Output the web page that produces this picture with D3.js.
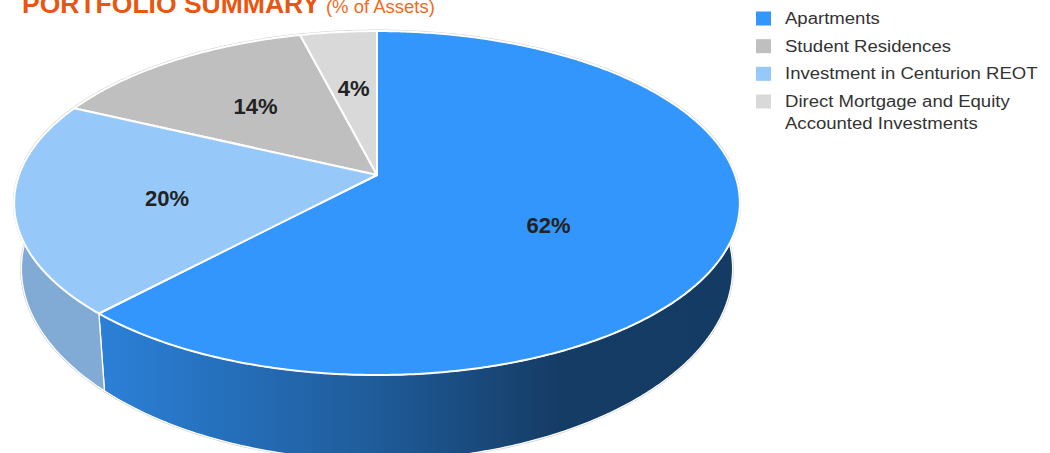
<!DOCTYPE html>
<html>
<head>
<meta charset="utf-8">
<script src="https://cdn.jsdelivr.net/npm/d3@7"></script>
<style>
  body { margin: 0; background: #fff; }
  text { font-family: "Liberation Sans", Arial, sans-serif; }
</style>
</head>
<body>
<div id="chart"></div>
<script>
// legend order
const categories = ["Apartments", "Student Residences", "Investment in Centurion REOT", "Direct Mortgage and Equity Accounted Investments"];
const values = [62, 14, 20, 4];
const labels = ["62%", "14%", "20%", "4%"];
const colors = ["#3396fc", "#bfbfbf", "#97c8fa", "#d9d9d9"];
// order the slices run clockwise from 12 o'clock
const pieOrder = [0, 2, 1, 3];

const width = 1050, height = 453;
// pie seen in perspective: far side squeezed, near side stretched
const p3 = {
    cx: 377, cy: 175,
    rx: 358, ry: 167.4,
    persp: 0.163,
    depth: 63, depthPersp: 0.294,
    taper: 0.98,
    labelR: 0.57
}
// small label nudges, like excel does for the big slice
const labelNudge = { "Apartments": [-25, 14], "Investment in Centurion REOT": [-6, 5] }

function topPt(a, r) {
    r = r === undefined ? 1 : r
    const u = r * Math.sin(a), v = -r * Math.cos(a), w = 1 - p3.persp * v
    return [p3.cx + p3.rx * u / w, p3.cy + p3.ry * v / w]
}
function botPt(a) {
    const u = Math.sin(a), v = -Math.cos(a), w = 1 - p3.persp * v
    return [p3.cx + p3.rx * p3.taper * u / w, p3.cy + p3.ry * p3.taper * v / w + p3.depth / (1 - p3.depthPersp * v)]
}
function arcPts(fn, a0, a1) {
    const n = Math.max(2, Math.ceil((a1 - a0) / 0.01))
    return d3.range(n + 1).map(i => fn(a0 + (a1 - a0) * i / n))
}

const data = categories.map((c, i) => ({ name: c, value: values[i], label: labels[i], color: colors[i], i: i }))
const pie = d3.pie()
    .value(d => d.value)
    .sort((a, b) => pieOrder.indexOf(a.i) - pieOrder.indexOf(b.i))
    .startAngle(0).endAngle(2 * Math.PI)
const arcs = pie(data)

const line = d3.line()

const svg = d3.select('#chart').append('svg')
    .attr('width', width)
    .attr('height', height)

const defs = svg.append('defs')
arcs.forEach(d => {
    const g = defs.append('linearGradient')
        .attr('id', 'wall' + d.data.i)
        .attr('gradientUnits', 'userSpaceOnUse')
        .attr('x1', 14).attr('x2', 740).attr('y1', 0).attr('y2', 0)
    const stops = [[0, 0.45], [0.12, 0.45], [0.5, 1.4], [0.75, 2.55], [1, 2.6]]
    stops.forEach(s => {
        g.append('stop').attr('offset', s[0]).attr('stop-color', d3.color(d.data.color).darker(s[1]))
    })
})

// side walls, only the front part
const frontA = 85 * Math.PI / 180, frontB = 275 * Math.PI / 180
const walls = arcs.map(d => {
    const a0 = Math.max(d.startAngle, frontA), a1 = Math.min(d.endAngle, frontB)
    if (a1 <= a0) return null
    const pts = arcPts(topPt, a0, a1).concat(arcPts(botPt, a0, a1).reverse())
    return { d: d, path: line(pts) + 'Z' }
}).filter(w => w)

const gWall = svg.append('g')
gWall.selectAll('path.under').data(walls).enter().append('path')
    .attr('d', w => w.path)
    .attr('fill', 'none')
    .attr('stroke', '#cfcfcf')
    .attr('stroke-width', 2.5)
gWall.selectAll('path.wall').data(walls).enter().append('path')
    .attr('d', w => w.path)
    .attr('fill', w => 'url(#wall' + w.d.data.i + ')')
    .attr('stroke', '#fff')
    .attr('stroke-width', 1.3)
    .attr('stroke-linejoin', 'round')

// back rim shadow line
svg.append('path')
    .attr('d', line(arcPts(topPt, frontB, frontA + 2 * Math.PI)))
    .attr('fill', 'none')
    .attr('stroke', '#cfcfcf')
    .attr('stroke-width', 3)

// top surface
svg.append('g').selectAll('path').data(arcs).enter().append('path')
    .attr('d', d => line([[p3.cx, p3.cy]].concat(arcPts(topPt, d.startAngle, d.endAngle))) + 'Z')
    .attr('fill', d => d.data.color)
    .attr('stroke', '#fff')
    .attr('stroke-width', 2)
    .attr('stroke-linejoin', 'round')

// percent labels
svg.append('g').selectAll('text').data(arcs).enter().append('text')
    .attr('x', d => topPt((d.startAngle + d.endAngle) / 2, p3.labelR)[0] + (labelNudge[d.data.name] || [0, 0])[0])
    .attr('y', d => topPt((d.startAngle + d.endAngle) / 2, p3.labelR)[1] + (labelNudge[d.data.name] || [0, 0])[1])
    .attr('dy', '0.35em')
    .attr('text-anchor', 'middle')
    .attr('font-size', 22)
    .attr('font-weight', 'bold')
    .attr('fill', '#222')
    .text(d => d.data.label)

// title (top of it is clipped by the frame, as in the original)
const title = svg.append('text').attr('x', 22).attr('y', 13)
title.append('tspan')
    .attr('font-size', 26.5).attr('font-weight', 'bold').attr('fill', '#e8560f')
    .text('PORTFOLIO SUMMARY')
title.append('tspan')
    .attr('dx', 6)
    .attr('font-size', 18.5).attr('fill', '#ef6a22')
    .text('(% of Assets)')

// legend
const legend = svg.append('g').attr('transform', 'translate(756,0)')
const rowY = d3.scalePoint().domain(categories).range([18.5, 101.5])
const stretch = 1.16 // legend text is drawn a bit wide in the original
const maxTextW = 256 / stretch
categories.forEach((c, i) => {
    const y = rowY(c)
    legend.append('rect')
        .attr('x', 0).attr('y', y - 7)
        .attr('width', 15).attr('height', 14)
        .attr('fill', colors[i])
    const t = legend.append('text')
        .attr('transform', 'translate(29,0) scale(' + stretch + ',1)')
        .attr('x', 0).attr('y', y)
        .attr('dy', '0.35em')
        .attr('font-size', 16)
        .attr('fill', '#333')
    // simple word wrap
    const words = c.split(' ')
    let ts = t.append('tspan').attr('x', 0)
    let cur = []
    words.forEach(w => {
        cur.push(w)
        ts.text(cur.join(' '))
        if (ts.node().getComputedTextLength() > maxTextW && cur.length > 1) {
            cur.pop()
            ts.text(cur.join(' '))
            cur = [w]
            ts = t.append('tspan').attr('x', 0).attr('dy', 21.5).text(w)
        }
    })
})
</script>
</body>
</html>
